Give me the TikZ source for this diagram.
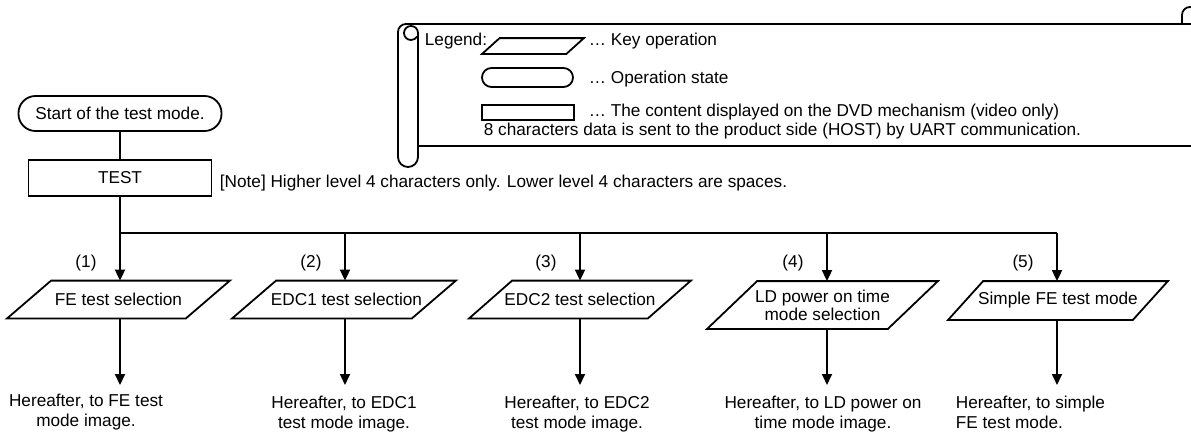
\documentclass[tikz,border=0pt]{standalone}
\usepackage{fontspec}
\setmainfont{Liberation Sans}
\usetikzlibrary{arrows.meta}
\newcommand\drawpara[2]{\draw ([xshift=#2]#1.north west) -- ([xshift=#2]#1.north east)
  -- ([xshift=-#2]#1.south east) -- ([xshift=-#2]#1.south west) -- cycle;}
\begin{document}
\begin{tikzpicture}[x=1pt,y=-1pt, line width=1.8pt,
  every node/.style={font=\fontsize{17.2}{19.5}\selectfont, inner sep=0pt},
  keyop/.style={rectangle, minimum width=177pt, minimum height=36pt},
  opstate/.style={draw, rectangle, rounded corners=17pt, minimum width=203pt, minimum height=35pt},
  disp/.style={draw, rectangle, minimum width=183pt, minimum height=36pt},
  arr/.style={-{Triangle[length=11pt,width=10pt]}},
  result/.style={align=center, anchor=north},
  txt/.style={anchor=base west}
]
\useasboundingbox (0,0) rectangle (1191,431);
\clip (0,0) rectangle (1191,431);

% legend scroll
\draw (1200,24) -- (406,24) arc[start angle=270, end angle=180, radius=8]
      -- (398,157) arc[start angle=180, end angle=0, radius=10] -- (418,33)
      arc[start angle=0, end angle=-330, radius=7];
\draw (1182,24) -- (1182,15) arc[start angle=180, end angle=300, radius=8];
\draw (418,146) -- (1200,146);

\node[txt] (lg) at (424,45) {Legend:};
\node[keyop, minimum width=82.5pt, minimum height=14pt] (lk) at (533,46) {};
\drawpara{lk}{8.75pt}
\node[txt] (lkt) at (588,45) {… Key operation};
\node[draw, rectangle, rounded corners=9.5pt, minimum width=91pt, minimum height=19pt] (ls) at (527.5,77.5) {};
\node[txt] (lst) at (588,83) {… Operation state};
\node[draw, rectangle, minimum width=92pt, minimum height=15pt] (lr) at (528,112.5) {};
\node[txt] (lrt) at (588,116.5) {… The content displayed on the DVD mechanism (video only)};
\node[txt] (lrt2) at (483,135) {8 characters data is sent to the product side (HOST) by UART communication.};

% flow
\node[opstate] (start) at (120,113.5) {Start of the test mode.};
\node[disp] (test) at (120,178) {TEST};
\node[txt] (note) at (219,187) {[Note] Higher level 4 characters only. Lower level 4 characters are spaces.};
\draw (start) -- (test);

\coordinate (b1) at (120,233);
\coordinate (b2) at (345,233);
\coordinate (b3) at (580,233);
\coordinate (b4) at (827,233);
\coordinate (b5) at (1057,233);
\draw (test.south -| b1) -- (b1) -- (b5);

\node[keyop] (p1) at (118.5,299.5) {FE test selection};
\drawpara{p1}{22pt}
\node[keyop, minimum width=178pt] (p2) at (344,299.5) {\hspace*{5pt}EDC1 test selection};
\drawpara{p2}{22pt}
\node[keyop] (p3) at (580,299.5) {EDC2 test selection};
\drawpara{p3}{21.5pt}
\node[keyop, minimum width=179pt, minimum height=46pt, align=center,
      font=\fontsize{17.2}{18}\selectfont] (p4) at (822.5,305) {LD power on time\\mode selection};
\drawpara{p4}{25pt}
\node[keyop, minimum width=183pt, minimum height=37pt] (p5) at (1058,300.5) {Simple FE test mode};
\drawpara{p5}{17.5pt}

\foreach \i in {1,...,5} { \draw[arr] (b\i) -- (b\i |- p\i.north); }

\node (n1) at (86,263) {(1)};
\node (n2) at (311,263) {(2)};
\node (n3) at (546,263) {(3)};
\node (n4) at (793,263) {(4)};
\node (n5) at (1023,263) {(5)};

\coordinate (e1) at (120,385);
\coordinate (e2) at (345,385);
\coordinate (e3) at (580,385);
\coordinate (e4) at (827,385);
\coordinate (e5) at (1057,385);
\foreach \i in {1,...,5} { \draw[arr] (p\i.south -| b\i) -- (e\i); }

\node[result] (r1) at (86,393.5) {Hereafter, to FE test\\mode image.};
\node[result] (r2) at (344,395.5) {Hereafter, to EDC1\\test mode image.};
\node[result] (r3) at (577,395.5) {Hereafter, to EDC2\\test mode image.};
\node[result] (r4) at (823,395.5) {Hereafter, to LD power on\\time mode image.};
\node[align=left, anchor=north west] (r5) at (955,395.5) {Hereafter, to simple\\FE test mode.};
\end{tikzpicture}
\end{document}
